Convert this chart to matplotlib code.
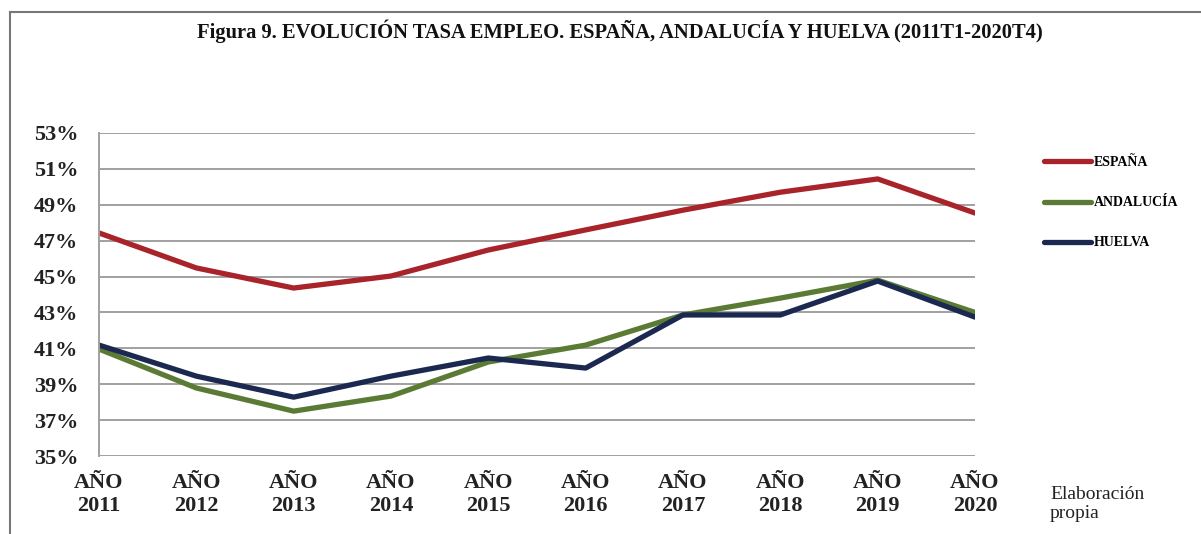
import matplotlib
matplotlib.use("Agg")
import matplotlib.pyplot as plt
from matplotlib.lines import Line2D
from matplotlib.ticker import FuncFormatter

years = ["AÑO\n2011", "AÑO\n2012", "AÑO\n2013", "AÑO\n2014", "AÑO\n2015",
         "AÑO\n2016", "AÑO\n2017", "AÑO\n2018", "AÑO\n2019", "AÑO\n2020"]
espana = [47.43, 45.48, 44.36, 45.03, 46.48, 47.6, 48.7, 49.7, 50.44, 48.54]
andalucia = [40.96, 38.79, 37.5, 38.34, 40.24, 41.18, 42.86, 43.8, 44.8, 43.0]
huelva = [41.18, 39.45, 38.28, 39.45, 40.46, 39.9, 42.86, 42.86, 44.75, 42.74]
yticks = [35, 37, 39, 41, 43, 45, 47, 49, 51, 53]

serif = ["Liberation Serif", "DejaVu Serif"]
plt.rcParams["font.family"] = serif

fig = plt.figure(figsize=(12.01, 5.34), dpi=100)
ax = fig.add_axes([99/1201, 1-456/534, (975-99)/1201, (456-133)/534])

x = list(range(len(years)))
ax.plot(x, espana, color="#A8232A", lw=3.8, label="ESPAÑA", solid_capstyle="round")
ax.plot(x, andalucia, color="#5B7B35", lw=3.8, label="ANDALUCÍA", solid_capstyle="round")
ax.plot(x, huelva, color="#1B2850", lw=3.8, label="HUELVA", solid_capstyle="round")

ax.set_xlim(0, 9)
ax.set_ylim(35, 53)
ax.set_yticks(yticks)
ax.yaxis.set_major_formatter(FuncFormatter(lambda v, p: f"{v:.0f}%"))
ax.set_xticks(x)
ax.set_xticklabels(years)
ax.grid(axis="y", color="#A0A0A0", lw=1.4)
ax.set_axisbelow(True)
for s in ["top", "right", "bottom"]:
    ax.spines[s].set_visible(False)
ax.spines["left"].set_color("#A0A0A0")
ax.spines["left"].set_linewidth(1.4)
ax.tick_params(axis="both", length=0, labelsize=16)
ax.tick_params(axis="y", pad=15)
ax.tick_params(axis="x", pad=12)
for lab in ax.get_xticklabels() + ax.get_yticklabels():
    lab.set_fontweight("bold")
    lab.set_color("#222222")
for lab in ax.get_xticklabels():
    lab.set_linespacing(1.25)

leg = ax.legend(loc="upper left", bbox_to_anchor=(1.072, 0.945), frameon=False,
                prop={"weight": "bold", "size": 10}, handlelength=3.4,
                labelspacing=1.95, handletextpad=0.2, borderaxespad=0)

fig.text(620/1201, 1-31/534, "Figura 9. EVOLUCIÓN TASA EMPLEO. ESPAÑA, ANDALUCÍA Y HUELVA (2011T1-2020T4)",
         ha="center", va="center", fontsize=14.8, fontweight="bold", color="#111111")
fig.text(1050/1201, 1-504/534, "Elaboración\npropia", ha="left", va="center",
         fontsize=14, color="#222222", linespacing=1.15)

# frame
fig.add_artist(Line2D([10/1201, 10/1201], [0, 1-12/534], color="#777777", lw=1.5, transform=fig.transFigure))
fig.add_artist(Line2D([10/1201, 1], [1-12/534, 1-12/534], color="#777777", lw=1.5, transform=fig.transFigure))

fig.savefig("out.png", dpi=100)
